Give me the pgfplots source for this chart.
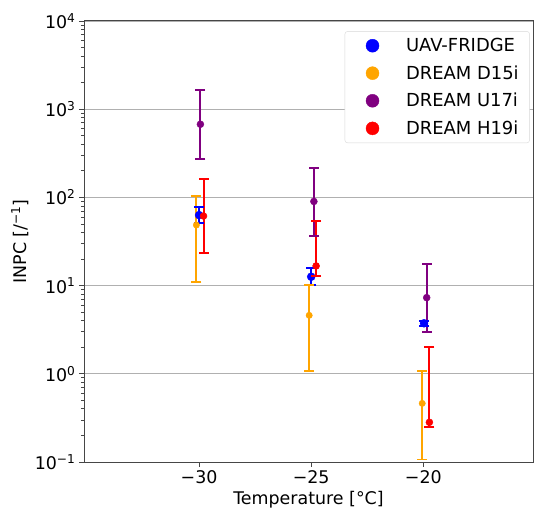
\documentclass[border=0pt]{standalone}
\usepackage{fontspec}
\setmainfont{DejaVu Sans}
\usepackage{pgfplots}
\pgfplotsset{compat=1.18}
\usepackage{pgfplotstable}

\definecolor{mplblue}{RGB}{0,0,255}
\definecolor{mplorange}{RGB}{255,165,0}
\definecolor{mplpurple}{RGB}{128,0,128}
\definecolor{mplred}{RGB}{255,0,0}
\definecolor{gridgray}{RGB}{176,176,176}
\definecolor{spine}{RGB}{70,70,70}
\definecolor{legframe}{RGB}{215,215,215}

\newcommand\lf{\fontsize{17.5}{21}\selectfont}
\newcommand\legf{\fontsize{18}{21}\selectfont}

% x  y  lower  upper
\pgfplotstableread{
x y lo hi
-30.00 63 51 78.5
-25.00 12.6 10.2 15.7
-19.97 3.74 3.45 3.95
}\uav
\pgfplotstableread{
x y lo hi
-30.12 48.6 11 104
-25.09 4.6 1.08 10.2
-20.05 0.462 0.107 1.08
}\dfi
\pgfplotstableread{
x y lo hi
-29.94 675 270 1650
-24.88 90 36.5 215
-19.85 7.3 2.98 17.6
}\ufi
\pgfplotstableread{
x y lo hi
-29.80 61.5 23.6 163
-24.78 16.7 12.8 54.4
-19.73 0.282 0.247 2.03
}\hfi

\pgfplotsset{
  ebar/.style={line width=2bp, mark=-, mark size=5bp,
    mark options={solid, line width=1.8bp}, unbounded coords=jump, forget plot},
  pts/.style={only marks, mark=*, forget plot, mark options={line width=0.4bp}},
}

\begin{document}
\begin{tikzpicture}
\useasboundingbox (0,0) rectangle (534bp,510bp);
\begin{axis}[
  at={(84bp,48bp)}, anchor=south west,
  width=449bp, height=441bp, scale only axis,
  ymode=log, ymin=0.1, ymax=10000,
  xmin=-35.13, xmax=-15.11,
  xtick={-30,-25,-20},
  xticklabels={−30,−25,−20},
  ytick={0.1,1,10,100,1000,10000},
  yticklabels={10\textsuperscript{−1},10\textsuperscript{0},10\textsuperscript{1},10\textsuperscript{2},10\textsuperscript{3},10\textsuperscript{4}},
  tick align=outside,
  xtick pos=bottom, ytick pos=left,
  major tick length=5bp, minor tick length=3bp,
  every tick/.style={spine, line width=0.8bp},
  axis line style={spine, line width=1bp},
  ymajorgrids, grid style={gridgray, line width=0.8bp},
  tick label style={font=\lf},
  xlabel={Temperature [°C]},
  ylabel={INPC [/\textsuperscript{−1}]},
  every axis x label/.style={at={(axis description cs:0.5,0)}, yshift=-38bp, anchor=center, font=\lf},
  every axis y label/.style={at={(axis description cs:0,0.5)}, xshift=-64bp, rotate=90, anchor=center, font=\lf},
  legend style={font=\legf, at={(rel axis cs:0.993,0.977)}, anchor=north east,
    draw=legframe, rounded corners=3bp, fill=white,
    inner xsep=9bp, inner ysep=5bp, row sep=8.5bp},
  legend cell align=left,
  legend image code/.code={\path (-10bp,0bp);
    \draw[mark repeat=2,mark phase=2,#1] plot coordinates {(0cm,0cm) (0.3cm,0cm) (0.6cm,0cm)};},
  /tikz/every odd column/.append style={column sep=25bp},
]
% UAV-FRIDGE
\addplot[mplblue, ebar] coordinates {(-30.00,51) (-30.00,78.5) (-30.00,nan) (-25.00,10.2) (-25.00,15.7) (-25.00,nan) (-19.97,3.45) (-19.97,3.95)};
\addplot[mplblue, pts, mark size=4bp] table[x=x, y=y] {\uav};
% DREAM D15i
\addplot[mplorange, ebar] coordinates {(-30.12,11) (-30.12,104) (-30.12,nan) (-25.09,1.08) (-25.09,10.2) (-25.09,nan) (-20.05,0.107) (-20.05,1.08)};
\addplot[mplorange, pts, mark size=3.2bp] table[x=x, y=y] {\dfi};
% DREAM U17i
\addplot[mplpurple, ebar] coordinates {(-29.94,270) (-29.94,1650) (-29.94,nan) (-24.88,36.5) (-24.88,215) (-24.88,nan) (-19.85,2.98) (-19.85,17.6)};
\addplot[mplpurple, pts, mark size=3.5bp] table[x=x, y=y] {\ufi};
% DREAM H19i
\addplot[mplred, ebar] coordinates {(-29.80,23.6) (-29.80,163) (-29.80,nan) (-24.78,12.8) (-24.78,54.4) (-24.78,nan) (-19.73,0.247) (-19.73,2.03)};
\addplot[mplred, pts, mark size=3.5bp] table[x=x, y=y] {\hfi};
\addlegendimage{only marks, mark=*, mark size=6.5bp, mplblue}
\addlegendentry{UAV-FRIDGE}
\addlegendimage{only marks, mark=*, mark size=6.5bp, mplorange}
\addlegendentry{DREAM D15i}
\addlegendimage{only marks, mark=*, mark size=6.5bp, mplpurple}
\addlegendentry{DREAM U17i}
\addlegendimage{only marks, mark=*, mark size=6.5bp, mplred}
\addlegendentry{DREAM H19i}
\end{axis}
\end{tikzpicture}
\end{document}
